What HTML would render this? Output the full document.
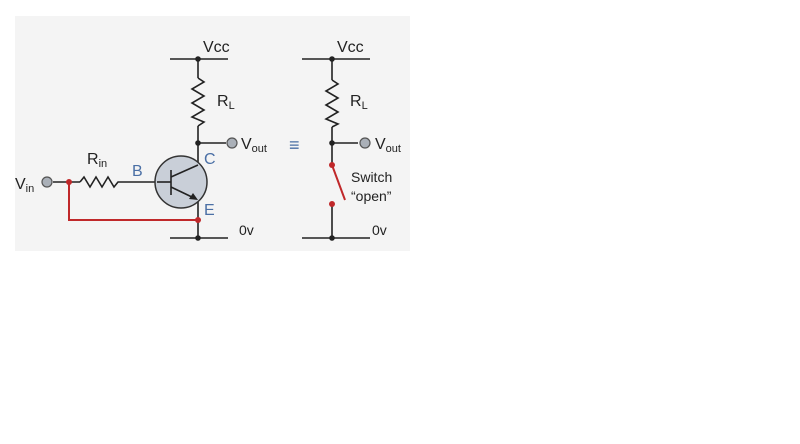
<!DOCTYPE html>
<html><head><style>body{margin:0;background:#fff;width:800px;height:439px;overflow:hidden}</style></head><body>
<svg width="800" height="439" xmlns="http://www.w3.org/2000/svg" font-family="Liberation Sans, sans-serif">
<rect x="15" y="16" width="395" height="235" fill="#f4f4f4"/>
<g stroke="#222" stroke-width="1.6" fill="none">
<line x1="170" y1="59" x2="228" y2="59"/>
<line x1="198" y1="59" x2="198" y2="78"/>
<polyline points="198,78 204,82 192,89 204,96 192,103 204,110 192,117 204,122 198,126"/>
<line x1="198" y1="126" x2="198" y2="167"/>
<line x1="198" y1="143" x2="226" y2="143"/>
<line x1="198" y1="198" x2="198" y2="238"/>
<line x1="170" y1="238" x2="228" y2="238"/>
<line x1="53" y1="182" x2="80" y2="182"/>
<polyline points="80,182 84,177 90,187 96,177 102,187 108,177 114,187 118,182 157,182"/>
<line x1="302" y1="59" x2="370" y2="59"/>
<line x1="332" y1="59" x2="332" y2="80"/>
<polyline points="332,80 338,84 326,91 338,98 326,105 338,112 326,119 338,124 332,127"/>
<line x1="332" y1="127" x2="332" y2="165"/>
<line x1="332" y1="143" x2="358" y2="143"/>
<line x1="332" y1="204" x2="332" y2="238"/>
<line x1="302" y1="238" x2="370" y2="238"/>
</g>
<circle cx="181" cy="182" r="26" fill="#c9cfd8" stroke="#333" stroke-width="1.5"/>
<g stroke="#222" stroke-width="1.6">
<line x1="171" y1="170" x2="171" y2="195"/>
<line x1="157" y1="182" x2="171" y2="182"/>
<line x1="171" y1="177" x2="198" y2="165"/>
<line x1="171" y1="187" x2="194" y2="198"/>
</g>
<polygon points="198,200 189,199 193,193" fill="#222"/>
<g stroke="#c0282a" stroke-width="2" fill="none">
<polyline points="69,182 69,220 198,220"/>
<line x1="332" y1="165" x2="345" y2="200"/>
</g>
<g fill="#222"><circle cx="198" cy="59" r="2.8"/><circle cx="198" cy="143" r="2.8"/><circle cx="198" cy="238" r="2.8"/>
<circle cx="332" cy="59" r="2.8"/><circle cx="332" cy="143" r="2.8"/><circle cx="332" cy="238" r="2.8"/></g>
<g fill="#c0282a"><circle cx="69" cy="182" r="3"/><circle cx="198" cy="220" r="3"/><circle cx="332" cy="165" r="3"/><circle cx="332" cy="204" r="3"/></g>
<g fill="#aab0b8" stroke="#555" stroke-width="1.2"><circle cx="47" cy="182" r="5"/><circle cx="232" cy="143" r="5"/><circle cx="365" cy="143" r="5"/></g>
<g fill="#222" font-size="16">
<text x="203" y="52">Vcc</text><text x="337" y="52">Vcc</text>
<text x="217" y="106">R<tspan font-size="11" dy="3">L</tspan></text>
<text x="350" y="106">R<tspan font-size="11" dy="3">L</tspan></text>
<text x="241" y="149">V<tspan font-size="11" dy="3">out</tspan></text>
<text x="375" y="149">V<tspan font-size="11" dy="3">out</tspan></text>
<text x="87" y="164">R<tspan font-size="11" dy="3">in</tspan></text>
<text x="15" y="189">V<tspan font-size="11" dy="3">in</tspan></text>
<text x="239" y="235" font-size="14">0v</text><text x="372" y="235" font-size="14">0v</text>
<text x="351" y="182" font-size="14">Switch</text><text x="351" y="201" font-size="14">“open”</text>
</g>
<g fill="#4a6fa5" font-size="16">
<text x="132" y="176">B</text><text x="204" y="164">C</text><text x="204" y="215">E</text>
<text x="289" y="151" font-size="18">≡</text>
</g>
</svg>
</body></html>
